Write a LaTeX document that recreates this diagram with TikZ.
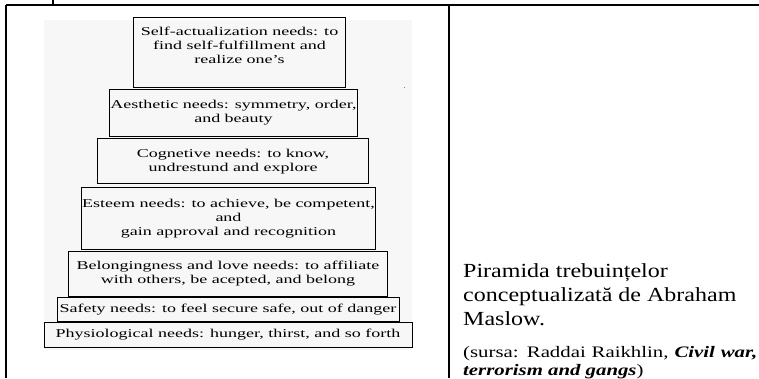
\documentclass[tikz,border=0pt]{standalone}
\usepackage{fontspec}
\setmainfont{Liberation Serif}
\newfontfamily\pyrfont[FakeStretch=1.5]{Liberation Serif}
\newfontfamily\capfont[FakeStretch=1.2]{Liberation Serif}
\newfontfamily\srcfont[FakeStretch=1.3]{Liberation Serif}
\usetikzlibrary{positioning}

\begin{document}
\begin{tikzpicture}[
  x=1pt, y=-1pt,
  level/.style={draw, line width=0.8pt, inner sep=0pt, align=center,
    font={\pyrfont\fontsize{12}{14}\selectfont}},
  rule/.style={line width=1.6pt},
  caption/.style={inner sep=0pt, font={\capfont\fontsize{20}{24}\selectfont}}
]
\useasboundingbox (0,0) rectangle (759,378);

% table rules
\draw[rule] (6,5) -- (759,5);
\draw[rule] (6,5) -- (6,378);
\draw[rule] (449,5) -- (449,378);
\draw[line width=1.2pt] (53,0) -- (53,5);

% picture background
\fill[black!3] (44,20) rectangle (412,350);
\fill[gray] (403.5,86.5) rectangle (405,88);

% pyramid levels
\node[level, minimum width=368pt, minimum height=25pt] (physio) at (228,334.5)
  {Physiological needs: hunger, thirst, and so forth};
\node[level, minimum width=342pt, minimum height=24pt, above=0pt of physio] (safety)
  {Safety needs: to feel secure safe, out of danger};
\node[level, minimum width=319pt, minimum height=45pt, above=0pt of safety] (belong)
  {Belongingness and love needs: to affiliate\\with others, be acepted, and belong};
\node[level, minimum width=294pt, minimum height=62pt, above=1pt of belong, xshift=0.5pt] (esteem)
  {Esteem needs: to achieve, be competent,\\and\\gain approval and recognition};
\node[level, minimum width=271pt, minimum height=45pt, above=3pt of esteem, xshift=4.5pt] (cognet)
  {Cognetive needs: to know,\\undrestund and explore};
\node[level, minimum width=248pt, minimum height=47pt, above=2pt of cognet, xshift=0.5pt] (aesth)
  {Aesthetic needs: symmetry, order,\\and beauty};
\node[level, minimum width=212pt, minimum height=70pt, above=1pt of aesth, xshift=6pt] (selfact)
  {Self-actualization needs: to\\find self-fulfillment and\\realize one’s\\~};

% caption
\node[caption, anchor=north west, align=left] (title) at (463,263)
  {Piramida trebuințelor\\conceptualizată de Abraham\\Maslow.};
\node[caption, anchor=base west, text width=294pt, align=justify,
  font={\srcfont\fontsize{16}{18}\selectfont}] (source) at (463,357)
  {(sursa: Raddai Raikhlin, \textbf{\textit{Civil war,\linebreak terrorism and gangs}})};

\end{tikzpicture}
\end{document}
